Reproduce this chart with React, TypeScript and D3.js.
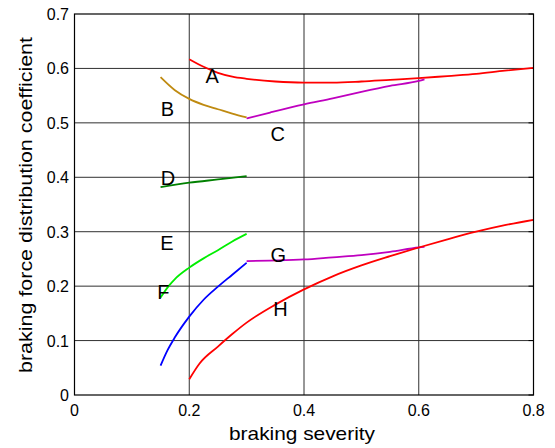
import React from "react";
import * as d3 from "d3";

// Braking force distribution coefficient curves vs. braking severity
const xTicks = [0, 0.2, 0.4, 0.6, 0.8];
const yTicks = [0, 0.1, 0.2, 0.3, 0.4, 0.5, 0.6, 0.7];

const curveA: [number, number][] = [
  [0.2, 0.617], [0.225, 0.603], [0.25, 0.592], [0.275, 0.585], [0.3, 0.581], [0.35, 0.576],
  [0.4, 0.574], [0.45, 0.574], [0.5, 0.576], [0.55, 0.579], [0.6, 0.582],
  [0.65, 0.586], [0.7, 0.59], [0.75, 0.596], [0.8, 0.601],
];
const curveB: [number, number][] = [
  [0.15, 0.584], [0.175, 0.56], [0.2, 0.544], [0.225, 0.533], [0.25, 0.525],
  [0.275, 0.517], [0.3, 0.51],
];
const curveC: [number, number][] = [
  [0.3, 0.508], [0.341, 0.519], [0.4, 0.534], [0.45, 0.545], [0.5, 0.557],
  [0.55, 0.568], [0.6, 0.577], [0.61, 0.58],
];
const curveD: [number, number][] = [
  [0.15, 0.382], [0.2, 0.39], [0.25, 0.396], [0.3, 0.402],
];
const curveE: [number, number][] = [
  [0.15, 0.179], [0.164, 0.2], [0.175, 0.213], [0.2, 0.234], [0.225, 0.251],
  [0.25, 0.266], [0.275, 0.282], [0.3, 0.296],
];
const curveF: [number, number][] = [
  [0.15, 0.054], [0.162, 0.082], [0.175, 0.106], [0.2, 0.144], [0.225, 0.175],
  [0.25, 0.199], [0.275, 0.221], [0.3, 0.243],
];
const curveG: [number, number][] = [
  [0.3, 0.246], [0.341, 0.247], [0.4, 0.249], [0.45, 0.253], [0.5, 0.257],
  [0.55, 0.263], [0.6, 0.271], [0.61, 0.272],
];
const curveH: [number, number][] = [
  [0.2, 0.029], [0.218, 0.058], [0.25, 0.089], [0.275, 0.112], [0.3, 0.133],
  [0.35, 0.166], [0.4, 0.194], [0.45, 0.218], [0.5, 0.238], [0.55, 0.255],
  [0.6, 0.271], [0.65, 0.286], [0.7, 0.3], [0.75, 0.312], [0.8, 0.322],
];

const curves = [
  { name: "A", color: "#ff0000", data: curveA },
  { name: "B", color: "#bf8a10", data: curveB },
  { name: "C", color: "#bf00bf", data: curveC },
  { name: "D", color: "#008000", data: curveD },
  { name: "E", color: "#00ee00", data: curveE },
  { name: "F", color: "#0000ff", data: curveF },
  { name: "G", color: "#bf00bf", data: curveG },
  { name: "H", color: "#ff0000", data: curveH },
];

// curve labels placed in data units
const labelNames = ["A", "B", "C", "D", "E", "F", "G", "H"];
const labelX = [0.24, 0.162, 0.354, 0.163, 0.161, 0.155, 0.355, 0.359];
const labelY = [0.586, 0.525, 0.48, 0.399, 0.28, 0.19, 0.258, 0.158];

const W = 555;
const H = 448;
const left = 74.5;
const right = 533.5;
const top = 14;
const bottom = 395;

export default function App() {
  const x = d3.scaleLinear().domain([0, 0.8]).range([left, right]);
  const y = d3.scaleLinear().domain([0, 0.7]).range([bottom, top]);
  const line = d3
    .line<[number, number]>()
    .x((d) => x(d[0]))
    .y((d) => y(d[1]))
    .curve(d3.curveMonotoneX);

  const font = "Arial, 'Liberation Sans', Helvetica, sans-serif";

  return (
    <svg
      width={W}
      height={H}
      style={{ position: "absolute", left: 0, top: 0, background: "#fff" }}
      fontFamily={font}
    >
      <rect x={0} y={0} width={W} height={H} fill="#fff" />
      {/* grid */}
      {xTicks.slice(1, -1).map((t) => (
        <line key={"gx" + t} x1={x(t)} x2={x(t)} y1={top} y2={bottom} stroke="#303030" strokeWidth={1} />
      ))}
      {yTicks.slice(1, -1).map((t) => (
        <line key={"gy" + t} x1={left} x2={right} y1={y(t)} y2={y(t)} stroke="#303030" strokeWidth={1} />
      ))}
      {/* tick marks on the right edge */}
      {yTicks.map((t) => (
        <line key={"ty" + t} x1={right - 5} x2={right} y1={y(t)} y2={y(t)} stroke="#000" />
      ))}
      {/* curves */}
      {curves.map((c) => (
        <path key={c.name + c.color} d={line(c.data) || ""} fill="none" stroke={c.color} strokeWidth={1.8} />
      ))}
      {/* axes box */}
      <rect x={left} y={top} width={right - left} height={bottom - top} fill="none" stroke="#000" strokeWidth={1.2} />
      {/* tick labels */}
      {xTicks.map((t) => (
        <text key={"lx" + t} x={x(t)} y={416} textAnchor="middle" fontSize={16}>
          {t === 0 ? "0" : t.toFixed(1)}
        </text>
      ))}
      {yTicks.map((t) => (
        <text key={"ly" + t} x={69} y={y(t) + 6} textAnchor="end" fontSize={16}>
          {t === 0 ? "0" : t.toFixed(1)}
        </text>
      ))}
      {/* curve labels */}
      {labelNames.map((n, i) => (
        <text
          key={"n" + n}
          x={x(labelX[i])}
          y={y(labelY[i])}
          textAnchor="middle"
          dominantBaseline="central"
          fontSize={20}
        >
          {n}
        </text>
      ))}
      {/* axis titles */}
      <text
        x={302}
        y={440}
        textAnchor="middle"
        fontSize={19}
        textLength={146}
        lengthAdjust="spacingAndGlyphs"
      >
        braking severity
      </text>
      <text
        transform={`translate(32,205) rotate(-90)`}
        textAnchor="middle"
        fontSize={19}
        textLength={336}
        lengthAdjust="spacingAndGlyphs"
      >
        braking force distribution coefficient
      </text>
    </svg>
  );
}
